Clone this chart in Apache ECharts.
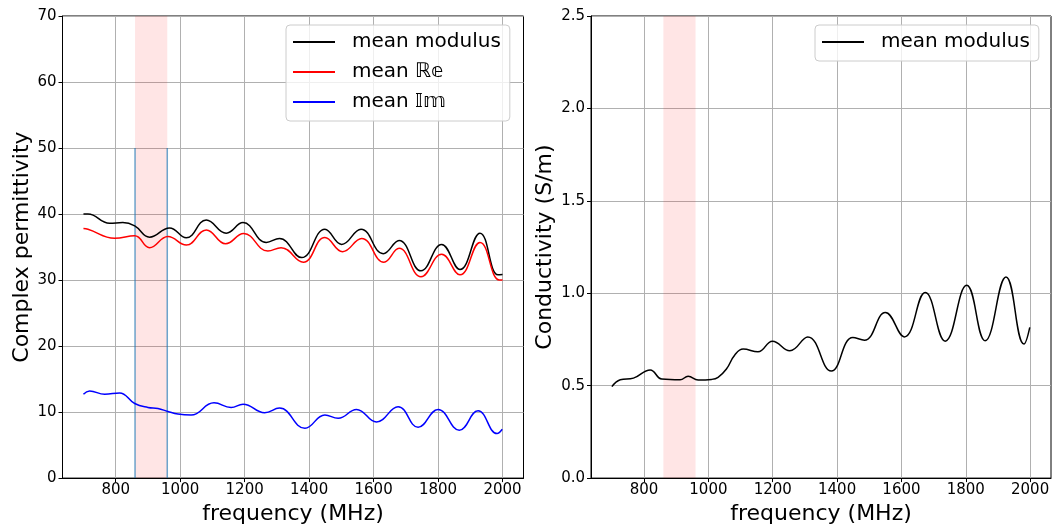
<!DOCTYPE html>
<html>
<head>
<meta charset="utf-8">
<script src="https://cdn.jsdelivr.net/npm/echarts@6.0.0/dist/echarts.min.js"></script>
<style>
  html, body { margin: 0; padding: 0; background: #fff; }
  #main { width: 1056px; height: 530px; }
</style>
</head>
<body>
<div id="main"></div>
<script>
// values, [frequency MHz, value]
let modulus = [
    [700, 40.0], [714, 40.0], [781, 38.6], [822, 38.7], [859, 38.2], [905, 36.5], [967, 37.9],
    [1019, 36.4], [1081, 39.1], [1143, 37.1], [1195, 38.7], [1267, 35.7], [1308, 36.3],
    [1377, 33.4], [1449, 37.7], [1501, 35.4], [1561, 37.7], [1630, 34.0], [1679, 36.0],
    [1747, 31.4], [1811, 35.4], [1868, 31.6], [1930, 37.1], [1986, 30.8], [2000, 30.85]
];
let realPart = [
    [700, 37.8], [714, 37.7], [797, 36.35], [859, 36.7], [905, 34.9], [962, 36.6],
    [1019, 35.3], [1081, 37.6], [1141, 35.5], [1197, 37.05], [1272, 34.4], [1313, 34.9],
    [1382, 32.7], [1449, 36.45], [1504, 34.3], [1563, 36.3], [1632, 32.7], [1679, 34.8],
    [1747, 30.5], [1811, 33.9], [1868, 30.8], [1930, 35.7], [1990, 30.0], [2000, 30.0]
];
let imagPart = [
    [700, 12.7], [719, 13.2], [766, 12.7], [812, 12.9], [859, 11.3], [900, 10.7], [931, 10.55],
    [962, 10.1], [993, 9.7], [1034, 9.55], [1105, 11.4], [1158, 10.7], [1195, 11.2],
    [1262, 9.9], [1308, 10.6], [1387, 7.55], [1449, 9.55], [1490, 9.05], [1547, 10.4],
    [1609, 8.5], [1676, 10.8], [1738, 7.7], [1800, 10.4], [1866, 7.25], [1924, 10.2],
    [1983, 6.75], [1999, 7.4]
];
let conductivity = [
    [700, 0.495], [726, 0.532], [767, 0.541], [819, 0.585], [855, 0.536], [912, 0.532],
    [937, 0.551], [968, 0.531], [1010, 0.534], [1030, 0.545], [1056, 0.59], [1082, 0.666],
    [1108, 0.698], [1154, 0.683], [1199, 0.741], [1253, 0.689], [1309, 0.764], [1382, 0.579],
    [1449, 0.761], [1485, 0.746], [1550, 0.896], [1609, 0.764], [1674, 1.004], [1736, 0.741],
    [1803, 1.043], [1860, 0.743], [1925, 1.088], [1981, 0.725], [1999, 0.815]
];

let freqTicks = [800, 1000, 1200, 1400, 1600, 1800, 2000];
let band = [860, 960];      // shaded frequency band
let bandLineTop = 50;       // height of the two blue markers (left plot)

let names = ['mean modulus', 'mean ℝ𝕖', 'mean 𝕀𝕞'];
let font = 'DejaVu Sans';

function freqAxis(gridIndex) {
    return {
        type: 'value',
        gridIndex: gridIndex,
        min: 635,
        max: 2065,
        name: 'frequency (MHz)',
        nameLocation: 'middle',
        nameGap: 21,
        nameTextStyle: {color: '#000', fontSize: 22, fontFamily: font},
        axisLine: {show: true, lineStyle: {color: '#000', width: 1}},
        axisTick: {show: true, customValues: freqTicks, length: 4, lineStyle: {color: '#000'}},
        axisLabel: {
            customValues: freqTicks, color: '#000', fontSize: 15, fontFamily: font, margin: 5,
            formatter: function (v) { return String(v); }
        },
        splitLine: {show: true, lineStyle: {color: '#b0b0b0', width: 1}}
    };
}

function valueAxis(gridIndex, max, step, title, gap, digits) {
    return {
        type: 'value',
        gridIndex: gridIndex,
        min: 0,
        max: max,
        interval: step,
        name: title,
        nameLocation: 'middle',
        nameGap: gap,
        nameTextStyle: {color: '#000', fontSize: 22, fontFamily: font},
        axisLine: {show: true, lineStyle: {color: '#000', width: 1}},
        axisTick: {show: true, length: 4, lineStyle: {color: '#000'}},
        axisLabel: {
            color: '#000', fontSize: 15, fontFamily: font, margin: 6,
            formatter: function (v) { return v.toFixed(digits); }
        },
        splitLine: {show: true, lineStyle: {color: '#b0b0b0', width: 1}}
    };
}

function curve(name, data, color, axisIndex) {
    return {
        name: name,
        type: 'line',
        xAxisIndex: axisIndex,
        yAxisIndex: axisIndex,
        data: data,
        smooth: 0.45,
        symbol: 'none',
        lineStyle: {color: color, width: 1.5},
        itemStyle: {color: color},
        z: 3
    };
}

function bandArea() {
    return {
        silent: true,
        itemStyle: {color: 'rgba(255,0,0,0.1)'},
        data: [[{xAxis: band[0]}, {xAxis: band[1]}]]
    };
}

let series = [];
let s0 = curve(names[0], modulus, '#000000', 0);
s0.markArea = bandArea();
series.push(s0);
series.push(curve(names[1], realPart, '#ff0000', 0));
series.push(curve(names[2], imagPart, '#0000ff', 0));

// the two blue markers at the edges of the band
band.forEach(function (f) {
    series.push({
        name: 'band edge',
        type: 'line',
        xAxisIndex: 0,
        yAxisIndex: 0,
        data: [[f, 0], [f, bandLineTop]],
        symbol: 'none',
        silent: true,
        lineStyle: {color: 'rgba(31,119,180,0.65)', width: 1.5},
        z: 2
    });
});

let s3 = curve(names[0], conductivity, '#000000', 1);
s3.markArea = bandArea();
series.push(s3);

let legendBase = {
    orient: 'vertical',
    itemWidth: 42,
    itemHeight: 2,
    itemGap: 10,
    icon: 'rect',
    padding: [7, 9, 9, 7],
    backgroundColor: 'rgba(255,255,255,0.8)',
    borderColor: '#cccccc',
    borderWidth: 1,
    borderRadius: 4,
    selectedMode: false,
    textStyle: {color: '#000', fontSize: 20, fontFamily: font, padding: [0, 0, 0, 12]}
};

let chart = echarts.init(document.getElementById('main'), null, {renderer: 'canvas'});
let option = {
    backgroundColor: '#fff',
    animation: false,
    textStyle: {fontFamily: font},
    grid: [
        {left: 62.5, top: 16, width: 461, height: 464, show: true, borderColor: '#000', borderWidth: 1, containLabel: false},
        {left: 591, top: 16, width: 460, height: 464, show: true, borderColor: '#000', borderWidth: 1, containLabel: false}
    ],
    legend: [
        Object.assign({}, legendBase, {left: 286, top: 25, data: names}),
        Object.assign({}, legendBase, {left: 815, top: 25, data: [names[0]]})
    ],
    xAxis: [freqAxis(0), freqAxis(1)],
    yAxis: [
        valueAxis(0, 70, 10, 'Complex permittivity', 28, 0),
        valueAxis(1, 2.5, 0.5, 'Conductivity (S/m)', 35, 1)
    ],
    series: series
};
chart.setOption(option);
</script>
</body>
</html>
